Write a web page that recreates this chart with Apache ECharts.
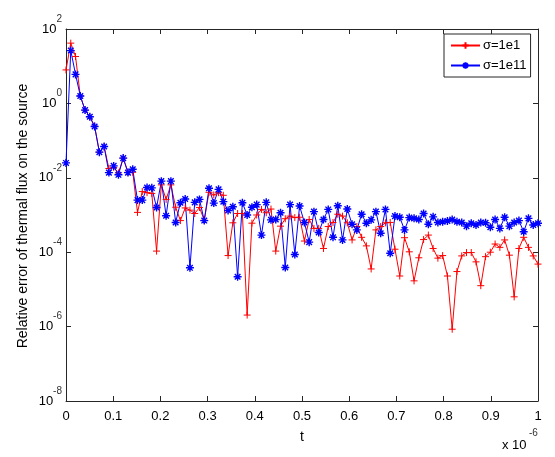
<!DOCTYPE html>
<html>
<head>
<meta charset="utf-8">
<script src="https://cdn.jsdelivr.net/npm/echarts@6/dist/echarts.min.js"></script>
<style>
html, body { margin: 0; padding: 0; background: #fff; }
#chart { width: 555px; height: 457px; }
</style>
</head>
<body>
<div id="chart"></div>
<script>
// t in units of 1e-6 (100 samples)
const tMicro = [
  0, 0.0101, 0.0202, 0.0303, 0.0404, 0.0505, 0.0606, 0.0707, 0.0808, 0.0909,
  0.1010, 0.1111, 0.1212, 0.1313, 0.1414, 0.1515, 0.1616, 0.1717, 0.1818, 0.1919,
  0.2020, 0.2121, 0.2222, 0.2323, 0.2424, 0.2525, 0.2626, 0.2727, 0.2828, 0.2929,
  0.3030, 0.3131, 0.3232, 0.3333, 0.3434, 0.3535, 0.3636, 0.3737, 0.3838, 0.3939,
  0.4040, 0.4141, 0.4242, 0.4343, 0.4444, 0.4545, 0.4646, 0.4747, 0.4848, 0.4949,
  0.5051, 0.5152, 0.5253, 0.5354, 0.5455, 0.5556, 0.5657, 0.5758, 0.5859, 0.5960,
  0.6061, 0.6162, 0.6263, 0.6364, 0.6465, 0.6566, 0.6667, 0.6768, 0.6869, 0.6970,
  0.7071, 0.7172, 0.7273, 0.7374, 0.7475, 0.7576, 0.7677, 0.7778, 0.7879, 0.7980,
  0.8081, 0.8182, 0.8283, 0.8384, 0.8485, 0.8586, 0.8687, 0.8788, 0.8889, 0.8990,
  0.9091, 0.9192, 0.9293, 0.9394, 0.9495, 0.9596, 0.9697, 0.9798, 0.9899, 1
]

// log10 of the relative error, sigma = 1e1 (red +)
const redExp = [
  0.90, 1.62, 1.26, 0.20, -0.18, -0.36, -0.61, -1.31, -1.16, -1.75,
  -1.72, -1.87, -1.47, -1.85, -1.85, -2.93, -2.37, -2.40, -2.42, -3.97,
  -2.19, -2.58, -2.19, -2.79, -3.15, -2.81, -2.87, -2.96, -2.80, -3.14,
  -2.39, -2.46, -2.40, -2.47, -4.09, -3.21, -2.96, -2.96, -5.69, -3.22,
  -3.00, -2.85, -2.94, -2.84, -3.97, -3.30, -3.10, -3.03, -3.07, -3.06,
  -3.70, -3.12, -3.36, -3.36, -3.90, -3.31, -3.20, -2.98, -3.03, -3.21,
  -3.67, -3.31, -3.60, -3.83, -4.45, -3.40, -3.31, -3.21, -3.20, -3.92,
  -4.64, -3.61, -3.99, -4.77, -4.15, -3.66, -3.54, -3.90, -4.16, -4.09,
  -4.64, -6.07, -4.52, -4.10, -4.01, -4.01, -4.26, -4.90, -4.12, -4.00,
  -3.78, -3.87, -3.67, -4.08, -5.20, -3.90, -3.60, -3.87, -4.10, -4.32
]

// log10 of the relative error, sigma = 1e11 (blue *)
const blueExp = [
  -1.60, 1.42, 0.78, 0.20, -0.18, -0.36, -0.62, -1.31, -1.16, -1.86,
  -1.68, -1.92, -1.47, -1.86, -1.77, -2.60, -2.60, -2.26, -2.27, -2.80,
  -2.09, -3.02, -2.09, -3.20, -2.67, -2.57, -4.42, -2.66, -2.58, -3.15,
  -2.28, -2.68, -2.31, -2.64, -2.88, -2.78, -4.66, -2.67, -3.00, -2.79,
  -2.72, -3.54, -2.66, -3.13, -3.12, -2.94, -4.41, -2.72, -4.06, -2.76,
  -3.20, -3.73, -2.91, -3.47, -3.12, -2.85, -3.60, -2.75, -3.67, -2.84,
  -3.25, -3.40, -2.98, -3.22, -3.13, -2.91, -3.49, -2.85, -4.03, -3.03,
  -3.06, -3.40, -3.07, -3.09, -3.12, -2.96, -3.25, -3.05, -3.20, -3.18,
  -3.16, -3.12, -3.18, -3.20, -3.30, -3.22, -3.27, -3.20, -3.21, -3.33,
  -3.12, -3.36, -3.06, -3.30, -3.20, -3.15, -3.45, -3.09, -3.27, -3.22
]

const seriesNames = ['σ=1e1', 'σ=1e11']

const plusPath = 'path://M5,0L5,10M0,5L10,5'
const starPath = 'path://M5,0L5,10M0,5L10,5M1.5,1.5L8.5,8.5M8.5,1.5L1.5,8.5'

function toPoints(exps) {
  return exps.map((e, i) => [tMicro[i], Math.pow(10, e)])
}

const axisColor = '#262626'
const font = 'Liberation Sans, Arial, sans-serif'

const chart = echarts.init(document.getElementById('chart'))

function boxX(pos, showLabel) {
  return {
    type: 'value',
    position: pos,
    min: 0,
    max: 1,
    interval: 0.1,
    axisLine: { show: true, onZero: false, lineStyle: { color: axisColor, width: 1 } },
    axisTick: { show: true, inside: true, length: 5, lineStyle: { color: axisColor } },
    axisLabel: {
      show: showLabel,
      color: '#000',
      fontSize: 13,
      fontFamily: font,
      margin: 9
    },
    splitLine: { show: false }
  }
}

function boxY(pos, showLabel) {
  return {
    type: 'log',
    logBase: 10,
    position: pos,
    min: 1e-8,
    max: 1e2,
    interval: 2,
    axisLine: { show: true, onZero: false, lineStyle: { color: axisColor, width: 1 } },
    axisTick: { show: true, inside: true, length: 5, lineStyle: { color: axisColor } },
    axisLabel: {
      show: showLabel,
      margin: 4,
      formatter: function(v) {
        const ex = Math.round(Math.log10(v))
        return '{b|10}{e|' + ex + '}'
      },
      rich: {
        b: { fontSize: 13, fontFamily: font, color: '#000', lineHeight: 30, verticalAlign: 'middle' },
        e: { fontSize: 10, fontFamily: font, color: '#333', lineHeight: 10, verticalAlign: 'top' }
      }
    },
    splitLine: { show: false },
    minorSplitLine: { show: false }
  }
}

chart.setOption({
  animation: false,
  backgroundColor: '#fff',
  grid: { left: 66, right: 17, top: 29, bottom: 56 },
  legend: {
    orient: 'vertical',
    left: 444,
    top: 34,
    padding: [5, 4, 5, 6],
    itemGap: 7,
    itemWidth: 29,
    itemHeight: 8,
    borderColor: axisColor,
    borderWidth: 1,
    backgroundColor: '#fff',
    textStyle: { fontSize: 13, fontFamily: font, color: '#000', padding: [0, 0, 0, -2] },
    data: seriesNames
  },
  xAxis: [
    Object.assign(boxX('bottom', true), {
      name: 't',
      nameLocation: 'middle',
      nameGap: 29,
      nameTextStyle: { fontSize: 14, fontFamily: font, color: '#000' }
    }),
    boxX('top', false)
  ],
  yAxis: [boxY('left', true), boxY('right', false)],
  graphic: [
    {
      type: 'text',
      x: 23,
      y: 216,
      rotation: Math.PI / 2,
      style: {
        text: 'Relative error of thermal flux on the source',
        fontSize: 14,
        fontFamily: font,
        fill: '#000',
        align: 'center',
        verticalAlign: 'middle'
      }
    },
    {
      type: 'text',
      x: 502,
      y: 445,
      style: { text: 'x 10', fontSize: 13, fontFamily: font, fill: '#000', align: 'left', verticalAlign: 'middle' }
    },
    {
      type: 'text',
      x: 529,
      y: 433,
      style: { text: '-6', fontSize: 10, fontFamily: font, fill: '#333', align: 'left', verticalAlign: 'middle' }
    }
  ],
  series: [
    {
      name: seriesNames[0],
      type: 'line',
      xAxisIndex: 0,
      yAxisIndex: 0,
      data: toPoints(redExp),
      symbol: plusPath,
      symbolSize: 7,
      showAllSymbol: true,
      lineStyle: { color: '#ff0000', width: 1 },
      itemStyle: { color: '#ff0000', borderColor: '#ff0000', borderWidth: 1 }
    },
    {
      name: seriesNames[1],
      type: 'line',
      xAxisIndex: 0,
      yAxisIndex: 0,
      data: toPoints(blueExp),
      symbol: starPath,
      symbolSize: 8,
      showAllSymbol: true,
      lineStyle: { color: '#0000ff', width: 1 },
      itemStyle: { color: '#0000ff', borderColor: '#0000ff', borderWidth: 1.4 }
    }
  ]
})
</script>
</body>
</html>
